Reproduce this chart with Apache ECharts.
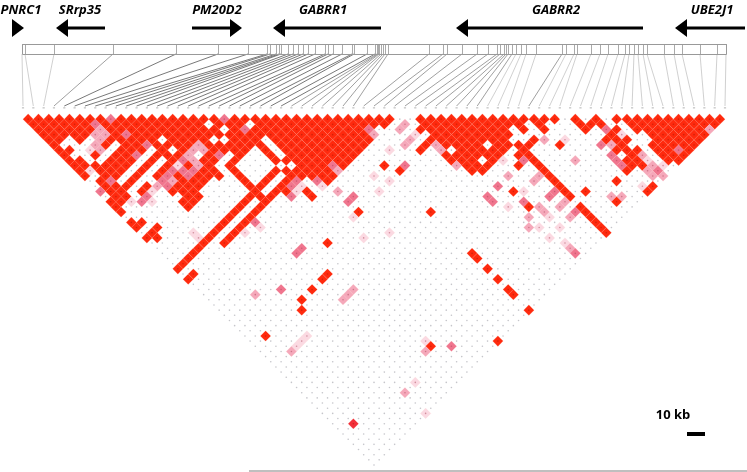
<!DOCTYPE html>
<html><head><meta charset="utf-8">
<style>html,body{margin:0;padding:0;background:#fff}#c{width:747px;height:472px}</style>
<script src="https://cdn.jsdelivr.net/npm/echarts@6/dist/echarts.min.js"></script>
</head><body><div id="c"></div>
<script>
const markerCount = 69;
const snpPositions = [22,25,54,113,176,218,248,267,270,276,279,281,288,293,298,303,308,315,325,328,333,342,352,354,367,375,377,378,379,381,383,385,388,429,443,447,462,477,488,497,500,504,506,508,512,516,521,526,536,562,566,574,577,591,600,608,618,625,629,634,638,643,647,664,674,682,700,717,726];
const geneNames = ['PNRC1','SRrp35','PM20D2','GABRR1','GABRR2','UBE2J1'];
const geneLabelX = [21,80,217,323,556,712];
const geneTail = [12,105,192,381,643,745];
const geneTip = [24,56,242,273,456,675];
const scaleLabel = '10 kb';
const ldLevels = {R:1, S:0.85, P:0.6, M:0.4, L:0.2};
const ldRuns = [
[1,"0-7R 8P 9-18R 19P 20-35R 38-51R 53R 55R 57-67R"],
[2,"0-5R 6P 7-16R 18-20R 22-34R 36M 38-47R 49R 53-55R 58-66R"],
[3,"0-5R 6M 7-17R 19R 20P 21-31R 32P 35M 37-45R 47R 49R 53R 55P 56R 58-64R 65M"],
[4,"0-4R 5-6M 7R 8P 9-31R 32M 36L 38-45R 55R 56L 59-64R"],
[5,"0-1R 3R 5M 6-10R 12-15R 18-20R 22-31R 35M 37-44R 47R 48M 50L 54-56R 59-63R"],
[6,"0R 4M 5R 7-8R 9P 10-13R 14M 15-20R 22-30R 34M 36R 37M 38-41R 43-46R 49R 53P 54M 55R 58-62R"],
[7,"0-1R 3L 4M 6-7R 8R 10R 12R 13-14M 15-18R 20R 22-29R 32L 35R 37M 39-43R 45R 54-56R 58-59R 60P 61R"],
[8,"0R 3R 5-6R 7P 9-11R 12M 14R 15P 17R 20R 22-28R 37-42R 44-45R 53P 55R 56M 58-60R"],
[9,"0-1R 4-6R 8R 10R 11P 12M 13-14R 16R 20-27R 37-39R 41R 42L 44P 45R 49M 53P 54-55R 56L 58-59R"],
[10,"0-5R 7R 9R 10L 11R 12M 13R 15R 22-24R 25P 26R 30R 32P 37M 38-40R 43R 45R 53P 54-55R 56M 57L"],
[11,"0R 1L 2-4R 6R 8R 9-11P 12-13R 15R 19-24R 25M 31R 38-39R 45R 53R 55M 56P"],
[12,"0R 2-3R 5R 7R 8P 9R 10P 11-13R 15R 18R 20-24R 28L 41M 44M 45R 55-56M"],
[13,"1R 2P 4R 7P 8M 9-11R 15R 17R 19R 20P 22P 23R 29L 43M 45R 51R"],
[14,"1-3R 5R 6M 7P 8-10R 15-16R 18R 19P 20L 22L 39P 45R 53L 54R"],
[15,"0P 1-2R 4R 5L 7-9R 15R 17-18R 19L 20R 23M 27L 40R 41L 44P 45R 47R 53R"],
[16,"1-2R 4P 8-9R 14-16R 18P 20R 24P 37P 43P 45R 49-50M"],
[17,"0-1R 2L 3P 4L 7-8R 13R 15R 23P 37P 40P 44M 49R"],
[18,"0R 7R 12R 14R 38L 40R 41M 43M 45R"],
[19,"0R 11R 13R 23R 30R 41M 44P 45R"],
[20,"10R 12R 22L 39M 41L 43M 45R"],
[21,"0-1R 9R 11R 12P 45R"],
[22,"0R 2R 8R 10R 12L 38M 39L 41L 45R"],
[23,"1R 5L 7R 9R 10L 24L 45R"],
[24,"0-1R 5L 6R 8R 21L 39L 45R"],
[25,"5R 7R 17R 40L"],
[26,"4R 14P 40M"],
[27,"3R 13P 30R 40P"],
[28,"2R 30R"],
[29,"1R"],
[30,"0R 30R"],
[31,"1R 14R"],
[32,"0R 13R 30R"],
[34,"8P 11R 15M 30R"],
[35,"5M 14M 30R"],
[36,"9R 13M"],
[38,"8R 30R"],
[40,"29R"],
[43,"2R 6L"],
[44,"5L 17L 24R"],
[45,"4L 17R 19P"],
[46,"3M 16M"],
[52,"12L"],
[54,"10M"],
[58,"10L"],
[60,"2S"]
];

const RED='#ff2a0e';
function cellColor(v){
  if(v>=1) return RED;
  if(v>=0.85) return '#f2303a';
  if(v>=0.6) return '#f0758e';
  if(v>=0.4) return '#f5a8ba';
  return '#fbd9e2';
}
const cells=[]; const seen={};
ldRuns.forEach(([k,s])=>{
  s.split(' ').forEach(t=>{
    const m=t.match(/^(\d+)(?:-(\d+))?([A-Z])$/);
    const a=+m[1], b=m[2]?+m[2]:a;
    for(let i=a;i<=b;i++){
      if(i+k>=markerCount) continue;
      cells.push([i+k/2,k/2,ldLevels[m[3]]]);
      seen[i+'_'+k]=ldLevels[m[3]];
    }
  });
});
const dots=[];
for(let k=1;k<markerCount;k++){
  for(let i=0;i+k<markerCount;i++){
    dots.push([i+k/2,k/2,seen[i+'_'+k]||0]);
  }
}
const tops=[]; for(let i=0;i<markerCount;i++) tops.push([i,-0.6]);

const chart=echarts.init(document.getElementById('c'),null,{renderer:'canvas',width:747,height:472});
chart.setOption({
  animation:false,
  backgroundColor:'#fff',
  grid:[
    {left:23,top:114,width:702,height:351,containLabel:false},
    {left:0,top:0,right:0,bottom:0}
  ],
  xAxis:[
    {gridIndex:0,type:'value',min:0,max:68,show:false},
    {gridIndex:1,type:'value',min:0,max:747,show:false}
  ],
  yAxis:[
    {gridIndex:0,type:'value',min:0,max:34,inverse:true,show:false},
    {gridIndex:1,type:'value',min:0,max:472,inverse:true,show:false}
  ],
  series:[
    {type:'scatter',xAxisIndex:0,yAxisIndex:0,data:cells,symbol:'diamond',symbolSize:10.6,silent:true,
     itemStyle:{color:p=>cellColor(p.value[2]),opacity:1,borderColor:'rgba(255,220,210,0.45)',borderWidth:0.4},z:2},
    {type:'scatter',xAxisIndex:0,yAxisIndex:0,data:dots,symbol:'circle',symbolSize:1.6,silent:true,large:false,
     itemStyle:{color:p=>p.value[2]>=0.85?'rgba(170,30,10,0.55)':(p.value[2]>0?'rgba(170,70,90,0.5)':'rgba(140,140,150,0.5)'),opacity:1},z:3},
    {type:'scatter',xAxisIndex:0,yAxisIndex:0,data:tops,symbol:'rect',symbolSize:[2.2,1.6],silent:true,clip:false,
     itemStyle:{color:'#cfcfcf',opacity:1},z:3},
    {type:'custom',xAxisIndex:1,yAxisIndex:1,silent:true,clip:false,z:1,
     data:snpPositions.map((p,i)=>[p,i]),
     renderItem:(params,api)=>{
       const pos=api.value(0), i=api.value(1);
       const a=api.coord([pos,44]), b=api.coord([pos,54]);
       const mx=23+i*702/68;
       const c=api.coord([mx,106]);
       const slant=Math.abs(mx-pos);
       return {type:'group',children:[
         {type:'line',shape:{x1:a[0]+.5,y1:a[1],x2:b[0]+.5,y2:b[1]},style:{stroke:'#aaa',lineWidth:1}},
         {type:'line',shape:{x1:b[0],y1:b[1],x2:c[0],y2:c[1]},style:{stroke:slant<30?'#c4c4c4':(slant<90?'#888':'#555'),lineWidth:0.8}}
       ]};
     }},
    {type:'custom',xAxisIndex:1,yAxisIndex:1,silent:true,z:1,
     data:[[22,726]],
     renderItem:(params,api)=>{
       const a=api.coord([api.value(0),44]), b=api.coord([api.value(1),54]);
       return {type:'rect',shape:{x:a[0]+.5,y:a[1]+.5,width:b[0]-a[0],height:b[1]-a[1]},style:{fill:null,stroke:'#999',lineWidth:1}};
     }},
    {type:'custom',xAxisIndex:1,yAxisIndex:1,silent:true,z:4,
     data:geneNames.map((n,i)=>[geneTail[i],geneTip[i],geneLabelX[i]]),
     renderItem:(params,api)=>{
       const tail=api.value(0), tip=api.value(1), lx=api.value(2);
       const dir=tip>tail?1:-1;
       const hb=tip-dir*12;
       const p=(x,y)=>api.coord([x,y]);
       const kids=[{type:'polygon',shape:{points:[p(tip,28),p(hb,19),p(hb,37)]},style:{fill:'#000'}},
         {type:'text',x:p(lx,10)[0],y:p(lx,10)[1],style:{text:geneNames[params.dataIndex],font:'italic bold 13px "Open Sans"',fill:'#000',textAlign:'center',textVerticalAlign:'middle'}}];
       if(Math.abs(tail-hb)>1) kids.push({type:'line',shape:{x1:p(tail,28)[0],y1:p(tail,28)[1],x2:p(hb,28)[0],y2:p(hb,28)[1]},style:{stroke:'#000',lineWidth:3}});
       return {type:'group',children:kids};
     }},
    {type:'custom',xAxisIndex:1,yAxisIndex:1,silent:true,z:4,
     data:[[687,705]],
     renderItem:(params,api)=>{
       const a=api.coord([api.value(0),432]), b=api.coord([api.value(1),436]);
       const t=api.coord([673,415]);
       return {type:'group',children:[
         {type:'rect',shape:{x:a[0],y:a[1],width:b[0]-a[0],height:b[1]-a[1]},style:{fill:'#000'}},
         {type:'text',x:t[0],y:t[1],style:{text:scaleLabel,font:'bold 13px "Open Sans"',fill:'#000',textAlign:'center',textVerticalAlign:'middle'}}
       ]};
     }},
    {type:'custom',xAxisIndex:1,yAxisIndex:1,silent:true,z:1,
     data:[[249,747]],
     renderItem:(params,api)=>{
       const a=api.coord([api.value(0),471]), b=api.coord([api.value(1),471]);
       return {type:'line',shape:{x1:a[0],y1:a[1],x2:b[0],y2:b[1]},style:{stroke:'#aaa',lineWidth:1.5}};
     }}
  ]
});
</script></body></html>
